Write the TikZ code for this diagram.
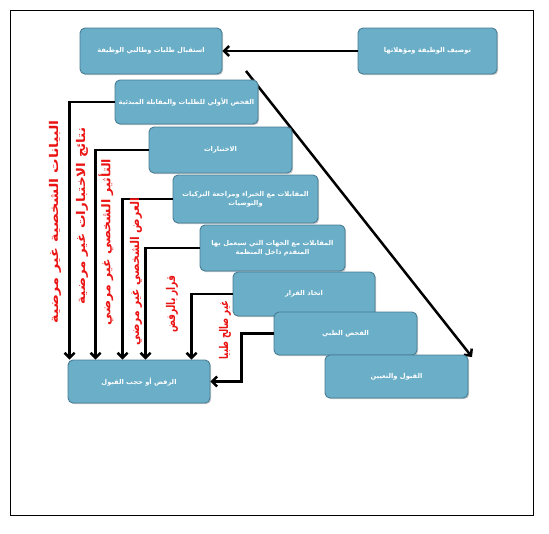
\documentclass[tikz,border=0pt]{standalone}
\usepackage{fontspec}
\TeXXeTstate=1
\newfontfamily\arabicfont[Script=Arabic]{DejaVu Sans}
\usetikzlibrary{arrows.meta,shadows,calc}
\definecolor{boxfill}{RGB}{106,174,200}
\definecolor{boxline}{RGB}{72,125,148}
\definecolor{lblred}{RGB}{235,20,20}
\begin{document}
\begin{tikzpicture}[x=1pt,y=-1pt,
  stage/.style={draw=boxline,line width=0.9pt,fill=boxfill,rounded corners=5pt,inner sep=1pt,align=center,
    text=white,font=\arabicfont\bfseries\fontsize{6.7}{9}\selectfont,
    drop shadow={shadow xshift=1.2pt,shadow yshift=-1.2pt,opacity=0.35,fill=black!60}},
  conn/.style={line width=2.5pt,-{Straight Barb[length=5pt,width=10pt]}},
  redlbl/.style={text=lblred,font=\arabicfont\bfseries\fontsize{12}{14}\selectfont,rotate=90,inner sep=0pt}]
\useasboundingbox (0,0) rectangle (549,533);
\fill[white] (0,0) rectangle (549,533);
\draw[line width=0.8pt] (10,10) rectangle (533,515);
% diagonal (behind the boxes)
\coordinate (d0) at (246,71);
\coordinate (d1) at (472,357);
\draw[conn] (d0) -- (d1);
% boxes
\node[stage,minimum width=142pt,minimum height=46pt] (b1) at (151,51) {\beginR استقبال طلبات وطالبي الوظيفة\endR};
\node[stage,minimum width=139pt,minimum height=46pt] (b2) at (427.5,51) {\beginR توصيف الوظيفة ومؤهلاتها\endR};
\node[stage,minimum width=143pt,minimum height=44pt] (b3) at (186.5,102) {\beginR الفحص الأولي للطلبات والمقابلة المبدئية\endR};
\node[stage,minimum width=143pt,minimum height=46pt] (b4) at (220.5,150) {\beginR الاختبارات\endR};
\node[stage,minimum width=145pt,minimum height=48pt] (b5) at (245.5,199) {\beginR المقابلات مع الخبراء ومراجعة التزكيات\endR\\\beginR والتوصيات\endR};
\node[stage,minimum width=145pt,minimum height=46pt] (b6) at (272.5,248) {\beginR المقابلات مع الجهات التي سيعمل بها\endR\\\beginR المتقدم داخل المنظمة\endR};
\node[stage,minimum width=142pt,minimum height=44pt] (b7) at (304,294) {\beginR اتخاذ القرار\endR};
\node[stage,minimum width=143pt,minimum height=43pt] (b8) at (345.5,333.5) {\beginR الفحص الطبي\endR};
\node[stage,minimum width=143pt,minimum height=43pt] (b9) at (396.5,376.5) {\beginR القبول والتعيين\endR};
\node[stage,minimum width=142pt,minimum height=43pt] (b10) at (139,381.5) {\beginR الرفض أو حجب القبول\endR};
% connectors
\draw[conn] (b2.west) -- (b1.east);
\draw[conn] (b3.west) -| ([xshift=2pt]b10.north west);
\draw[conn] (b4.west) -| ([xshift=28pt]b10.north west);
\draw[conn] (b5.west) -| ([xshift=55pt]b10.north west);
\draw[conn] (b6.west) -| ([xshift=78pt]b10.north west);
\draw[conn] (b7.west) -| ([xshift=124pt]b10.north west);
\draw[conn] (b8.west) -- ++(-32,0) |- (b10.east);
% red labels
\node[redlbl] (l1) at (55,222) {\scalebox{1.2}[1]{\beginR البيانات الشخصية غير مرضية\endR}};
\node[redlbl] (l2) at (82,216) {\scalebox{1.12}[1]{\beginR نتائج الاختبارات غير مرضية\endR}};
\node[redlbl] (l3) at (106,242) {\scalebox{1.04}[1]{\beginR التأثير الشخصي غير مرضي\endR}};
\node[redlbl] (l4) at (136,272) {\scalebox{0.9}[1]{\beginR العرض الشخصي غير مرضي\endR}};
\node[redlbl] (l5) at (172,304) {\scalebox{0.75}[1]{\beginR قرار بالرفض\endR}};
\node[redlbl] (l6) at (225,330) {\scalebox{0.7}[1]{\beginR غير صالح طبيا\endR}};
\end{tikzpicture}
\end{document}
